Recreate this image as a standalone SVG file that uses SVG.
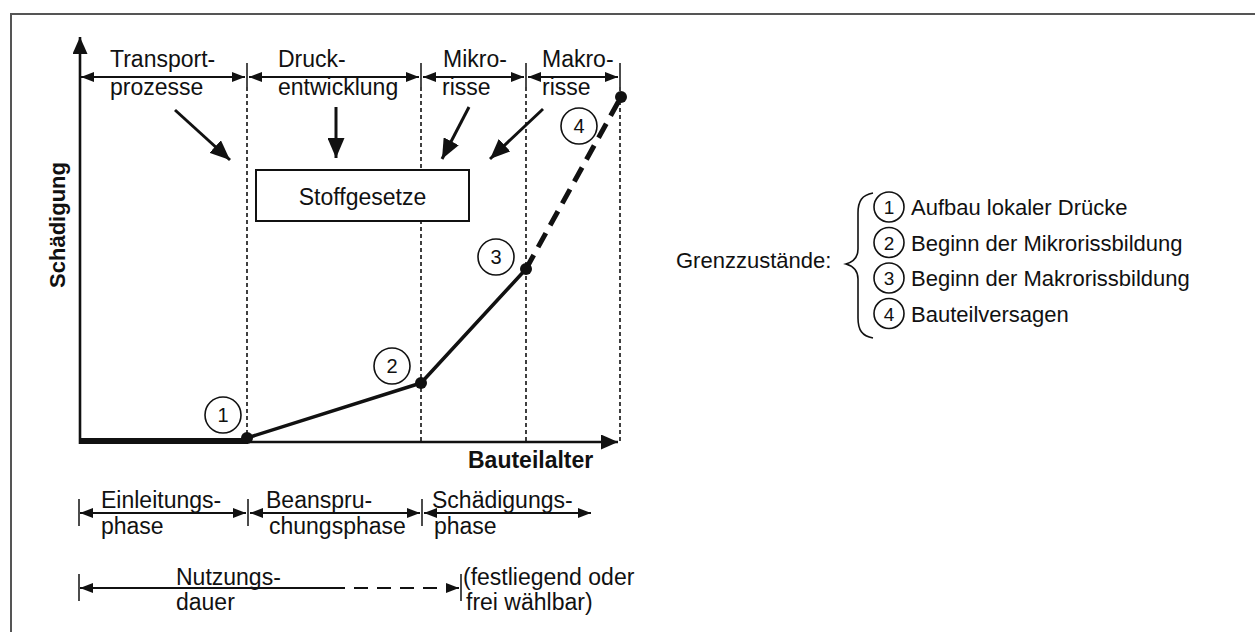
<svg xmlns="http://www.w3.org/2000/svg" width="1255" height="632" viewBox="0 0 1255 632">
  <style>
    .t { font-family: "Liberation Sans", Arial, sans-serif; font-size: 23px; fill: #111; }
    .tb { font-family: "Liberation Sans", Arial, sans-serif; font-weight: bold; fill: #111; }
    .tr { font-family: "Liberation Sans", Arial, sans-serif; font-size: 22px; fill: #111; }
    .num { font-family: "Liberation Sans", Arial, sans-serif; font-size: 20px; fill: #111; text-anchor: middle; }
    .numr { font-family: "Liberation Sans", Arial, sans-serif; font-size: 19px; fill: #111; text-anchor: middle; }
    .ring { fill: #fff; stroke: #111; stroke-width: 1.6; }
    .dim { stroke: #111; stroke-width: 2; fill: none; }
    .tick { stroke: #111; stroke-width: 1.5; }
    .grid { stroke: #111; stroke-width: 1.6; stroke-dasharray: 4 3; fill: none; }
    .big { stroke: #111; stroke-width: 3; fill: none; }
    .axis { stroke: #111; stroke-width: 2.6; fill: none; }
    .curve { stroke: #111; stroke-width: 3.5; fill: none; stroke-linejoin: round; }
    .dot { fill: #111; }
  </style>
  <defs>
    <marker id="dimHead" markerUnits="userSpaceOnUse" viewBox="0 0 13 10" markerWidth="13" markerHeight="10" refX="13" refY="5" orient="auto-start-reverse">
      <path d="M0,0 L13,5 L0,10 z" fill="#111"/>
    </marker>
    <marker id="bigHead" markerUnits="userSpaceOnUse" viewBox="0 0 20 17" markerWidth="20" markerHeight="17" refX="20" refY="8.5" orient="auto">
      <path d="M0,0 L20,8.5 L0,17 z" fill="#111"/>
    </marker>
    <marker id="axisHead" markerUnits="userSpaceOnUse" viewBox="0 0 17 15" markerWidth="17" markerHeight="15" refX="17" refY="7.5" orient="auto">
      <path d="M0,0 L17,7.5 L0,15 z" fill="#111"/>
    </marker>
  </defs>

  <rect width="1255" height="632" fill="#fff"/>

  <!-- frame: top and left edges only -->
  <g id="frame" stroke="#555" stroke-width="2" fill="none">
    <path d="M1255,14 H11 V632"/>
  </g>

  <!-- phase boundaries -->
  <g id="grid">
    <line class="tick" x1="247" y1="63" x2="247" y2="87"/>
    <line class="tick" x1="421" y1="63" x2="421" y2="87"/>
    <line class="tick" x1="526" y1="63" x2="526" y2="87"/>
    <line class="tick" x1="620" y1="63" x2="620" y2="87"/>
    <line class="grid" x1="247" y1="87" x2="247" y2="442"/>
    <line class="grid" x1="421" y1="87" x2="421" y2="442"/>
    <line class="grid" x1="526" y1="87" x2="526" y2="442"/>
    <line class="grid" x1="620" y1="87" x2="620" y2="442"/>
  </g>

  <!-- axes -->
  <g id="axes">
    <line class="axis" x1="80" y1="444" x2="80" y2="37" marker-end="url(#axisHead)"/>
    <line class="axis" x1="80" y1="442" x2="618" y2="442" marker-end="url(#axisHead)"/>
    <text class="tb" font-size="22" transform="translate(65,225) rotate(-90)" text-anchor="middle">Schädigung</text>
    <text class="tb" font-size="23" x="468" y="468">Bauteilalter</text>
  </g>

  <!-- damage curve -->
  <g id="curve">
    <rect x="80" y="438" width="168" height="6" fill="#111"/>
    <polyline class="curve" points="247,438 421,383 526,269"/>
    <line x1="526" y1="269" x2="621" y2="97" stroke="#111" stroke-width="5" stroke-dasharray="16 9"/>
    <circle class="dot" cx="247" cy="438" r="6"/>
    <circle class="dot" cx="421" cy="383" r="6"/>
    <circle class="dot" cx="526" cy="269" r="6"/>
    <circle class="dot" cx="621" cy="97" r="6"/>
  </g>

  <!-- limit state markers on the curve -->
  <g id="state1"><circle class="ring" cx="223" cy="415" r="18"/><text class="num" x="223" y="422">1</text></g>
  <g id="state2"><circle class="ring" cx="392" cy="366" r="18"/><text class="num" x="392" y="373">2</text></g>
  <g id="state3"><circle class="ring" cx="496" cy="257" r="18"/><text class="num" x="496" y="264">3</text></g>
  <g id="state4"><circle class="ring" cx="579" cy="126" r="18"/><text class="num" x="579" y="133">4</text></g>

  <!-- process headings -->
  <g id="head-transport">
    <text class="t" x="110" y="67">Transport-</text>
    <text class="t" x="110" y="95">prozesse</text>
  </g>
  <g id="head-druck">
    <text class="t" x="278" y="67">Druck-</text>
    <text class="t" x="278" y="95">entwicklung</text>
  </g>
  <g id="head-mikro">
    <text class="t" x="443" y="67">Mikro-</text>
    <text class="t" x="442" y="95">risse</text>
  </g>
  <g id="head-makro">
    <text class="t" x="542" y="67">Makro-</text>
    <text class="t" x="542" y="95">risse</text>
  </g>

  <!-- material laws box -->
  <g id="stoffgesetze">
    <rect x="256" y="170" width="213" height="51" fill="#fff" stroke="#111" stroke-width="2"/>
    <text class="t" font-size="26" x="362.5" y="205" text-anchor="middle">Stoffgesetze</text>
  </g>

  <!-- lower phase labels -->
  <g id="phase-einleitung">
    <text class="t" x="101" y="508">Einleitungs-</text>
    <text class="t" x="101" y="534">phase</text>
  </g>
  <g id="phase-beanspruchung">
    <text class="t" x="266" y="508">Beanspru-</text>
    <text class="t" x="269" y="534">chungsphase</text>
  </g>
  <g id="phase-schaedigung">
    <text class="t" x="432" y="508">Schädigungs-</text>
    <text class="t" x="434" y="534">phase</text>
  </g>
  <g id="nutzungsdauer">
    <text class="t" x="176" y="585">Nutzungs-</text>
    <text class="t" x="176" y="610">dauer</text>
    <text class="t" x="463" y="585">(festliegend oder</text>
    <text class="t" x="466" y="610">frei wählbar)</text>
  </g>

  <!-- legend -->
  <g id="legend">
    <text class="tr" x="676" y="268">Grenzzustände:</text>
    <path d="M873,193 C862,195 858,201 858,213 L858,249 C858,258 853,262 846,264 C853,266 858,270 858,279 L858,318 C858,330 862,336 873,338" fill="none" stroke="#111" stroke-width="1.6"/>
    <g id="legend1"><circle class="ring" cx="889" cy="207" r="15"/><text class="numr" x="889" y="214">1</text><text class="tr" x="911" y="215">Aufbau lokaler Drücke</text></g>
    <g id="legend2"><circle class="ring" cx="889" cy="242.5" r="15"/><text class="numr" x="889" y="249.5">2</text><text class="tr" x="911" y="250.5">Beginn der Mikrorissbildung</text></g>
    <g id="legend3"><circle class="ring" cx="889" cy="278" r="15"/><text class="numr" x="889" y="285">3</text><text class="tr" x="911" y="286">Beginn der Makrorissbildung</text></g>
    <g id="legend4"><circle class="ring" cx="889" cy="313.5" r="15"/><text class="numr" x="889" y="320.5">4</text><text class="tr" x="911" y="321.5">Bauteilversagen</text></g>
  </g>

  <!-- connectors: dimension lines and pointer arrows -->
  <g id="connectors">
    <line class="dim" x1="81" y1="77" x2="245" y2="77" marker-start="url(#dimHead)" marker-end="url(#dimHead)"/>
    <line class="dim" x1="249" y1="77" x2="419" y2="77" marker-start="url(#dimHead)" marker-end="url(#dimHead)"/>
    <line class="dim" x1="423" y1="77" x2="524" y2="77" marker-start="url(#dimHead)" marker-end="url(#dimHead)"/>
    <line class="dim" x1="528" y1="77" x2="618" y2="77" marker-start="url(#dimHead)" marker-end="url(#dimHead)"/>

    <line class="big" x1="175" y1="110" x2="230" y2="160" marker-end="url(#bigHead)"/>
    <line class="big" x1="336" y1="107" x2="336" y2="158" marker-end="url(#bigHead)"/>
    <line class="big" x1="469" y1="107" x2="442" y2="159" marker-end="url(#bigHead)"/>
    <line class="big" x1="543" y1="109" x2="490" y2="159" marker-end="url(#bigHead)"/>

    <line class="tick" x1="79" y1="499" x2="79" y2="526"/>
    <line class="tick" x1="248" y1="499" x2="248" y2="526"/>
    <line class="tick" x1="422" y1="499" x2="422" y2="526"/>
    <line class="dim" x1="80" y1="513" x2="246" y2="513" marker-start="url(#dimHead)" marker-end="url(#dimHead)"/>
    <line class="dim" x1="250" y1="513" x2="420" y2="513" marker-start="url(#dimHead)" marker-end="url(#dimHead)"/>
    <line class="dim" x1="424" y1="513" x2="591" y2="513" marker-start="url(#dimHead)" marker-end="url(#dimHead)"/>

    <line class="tick" x1="79" y1="574" x2="79" y2="601"/>
    <line class="tick" x1="461" y1="574" x2="461" y2="601"/>
    <line class="dim" x1="80" y1="588" x2="331" y2="588" marker-start="url(#dimHead)"/>
    <line class="dim" x1="331" y1="588" x2="459" y2="588" stroke-dasharray="14 9" marker-end="url(#dimHead)"/>
  </g>
</svg>
